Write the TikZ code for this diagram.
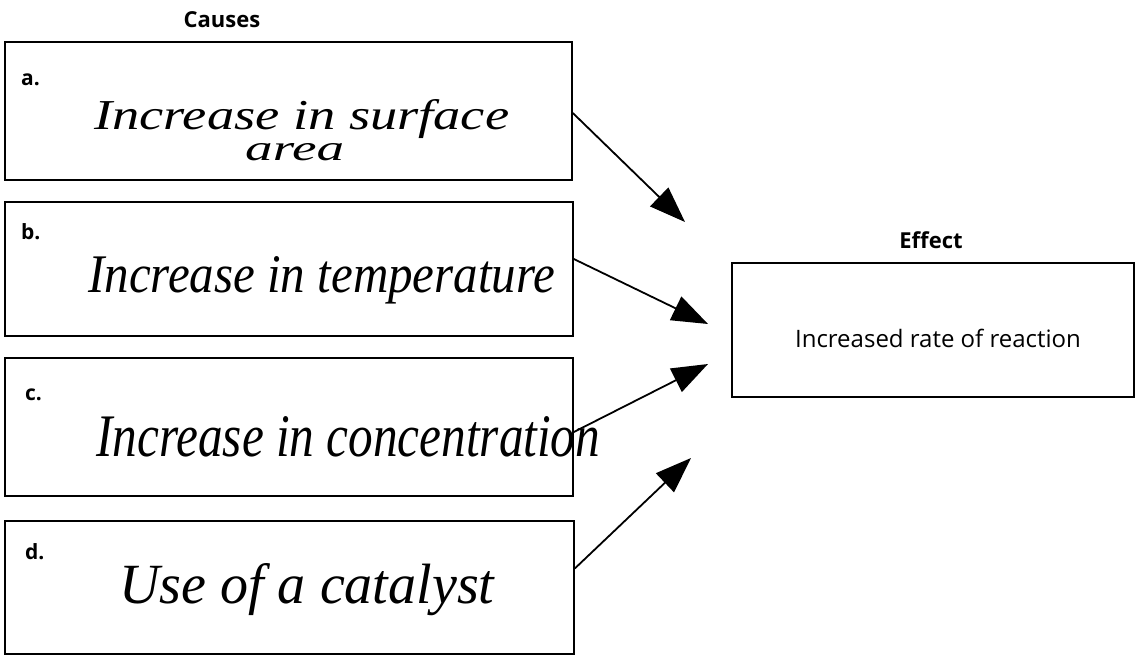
\documentclass[tikz,border=0pt]{standalone}
\usepackage{fontspec}
\setmainfont{Open Sans}
\newfontfamily\hand{Liberation Serif}
\usetikzlibrary{arrows.meta}
\tikzset{
  causebox/.style={draw, line width=1.6pt, rectangle, inner sep=0pt},
  heading/.style={font=\fontsize{22}{26}\selectfont\bfseries, inner sep=0pt},
  letter/.style={font=\fontsize{21}{24}\selectfont\bfseries, inner sep=0pt, anchor=west},
  handtext/.style={font=\hand\itshape, inner sep=0pt, anchor=base west},
  bigarrow/.style={line width=1.8pt, -{Triangle[length=36pt,width=26pt]}}
}
\begin{document}
\begin{tikzpicture}[x=1pt,y=-1pt]
\useasboundingbox (0,0) rectangle (1136,655);
% headings
\node[heading] (causes) at (222,20) {Causes};
\node[heading] (effecth) at (931,240) {Effect};
% cause boxes
\node[causebox, minimum width=567pt, minimum height=138pt] (a) at (288.5,111) {};
\node[causebox, minimum width=568pt, minimum height=134pt] (b) at (289,269) {};
\node[causebox, minimum width=568pt, minimum height=138pt] (c) at (289,427) {};
\node[causebox, minimum width=569pt, minimum height=133pt] (d) at (289.5,587.5) {};
% effect box
\node[causebox, minimum width=402pt, minimum height=134pt] (e) at (933,330) {};
\node[inner sep=0pt, font=\fontsize{24}{28}\selectfont] (etext) at (938,338) {Increased rate of reaction};
% letters
\node[letter] (la) at (21,80) {a.};
\node[letter] (lb) at (21,232) {b.};
\node[letter] (lc) at (25,395) {c.};
\node[letter] (ld) at (25,552) {d.};
% handwriting
\node[handtext, anchor=north west, align=left, font=\hand\itshape\fontsize{10}{31}\selectfont] (ha) at (94,99)
  {\resizebox{415pt}{30pt}{Increase in surface}\\\hspace*{151pt}\resizebox{99pt}{17pt}{area}};
\node[handtext] (hb) at (88,292) {\resizebox{467pt}{36pt}{Increase in temperature}};
\node[handtext] (hc) at (96,456) {\resizebox{504pt}{40pt}{Increase in concentration}};
\node[handtext] (hd) at (119,603) {\resizebox{375pt}{40pt}{Use of a catalyst}};
% arrow ends
\coordinate (ta) at (685,222);
\coordinate (tb) at (708,324);
\coordinate (tc) at (708,364);
\coordinate (td) at (691,458);
\draw[bigarrow] ([yshift=-2pt]a.east) -- (ta);
\draw[bigarrow] ([yshift=10pt]b.east) -- (tb);
\draw[bigarrow] ([yshift=-5pt]c.east) -- (tc);
\draw[bigarrow] ([yshift=19pt]d.east) -- (td);
\end{tikzpicture}
\end{document}
